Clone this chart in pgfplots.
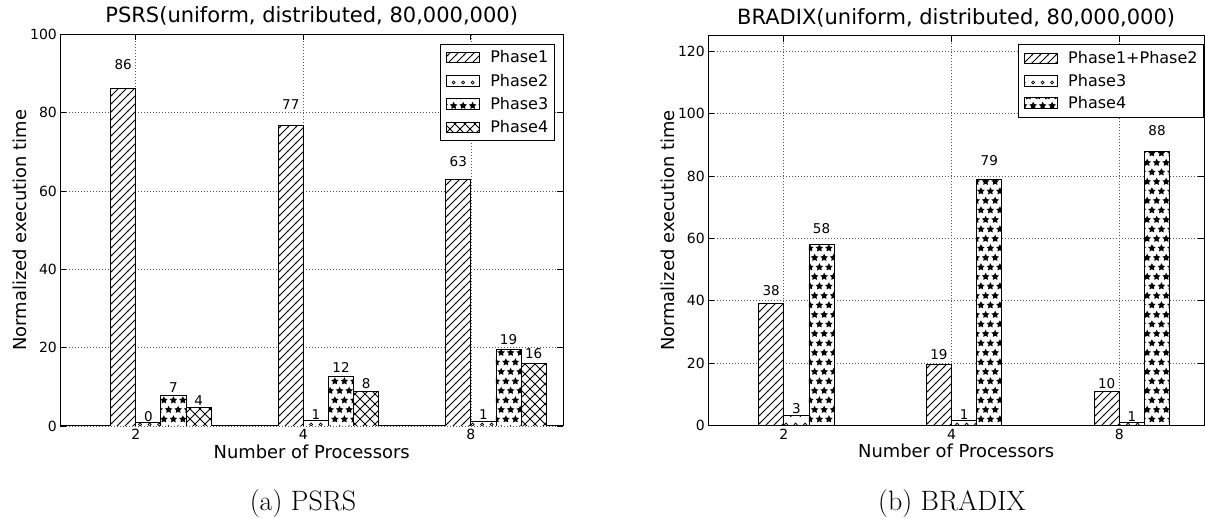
\documentclass[border=0pt]{standalone}
\usepackage{fontspec}
\usepackage{pgfplots}
\pgfplotsset{compat=1.18}
\usetikzlibrary{patterns}
\newfontfamily\dejavu{DejaVu Sans}
\newcommand{\fs}[1]{\dejavu\fontsize{#1}{#1}\selectfont}

% matplotlib-like hatches
\pgfdeclarepatternformonly{mpllines}{\pgfqpoint{-1pt}{-1pt}}{\pgfqpoint{9pt}{9pt}}{\pgfqpoint{8pt}{8pt}}{%
  \pgfsetlinewidth{0.8pt}%
  \pgfpathmoveto{\pgfqpoint{-0.5pt}{-0.5pt}}%
  \pgfpathlineto{\pgfqpoint{8.5pt}{8.5pt}}%
  \pgfusepath{stroke}}
\pgfdeclarepatternformonly{mplcross}{\pgfqpoint{-1pt}{-1pt}}{\pgfqpoint{11pt}{11pt}}{\pgfqpoint{10pt}{10pt}}{%
  \pgfsetlinewidth{0.8pt}%
  \pgfpathmoveto{\pgfqpoint{-0.5pt}{-0.5pt}}%
  \pgfpathlineto{\pgfqpoint{10.5pt}{10.5pt}}%
  \pgfpathmoveto{\pgfqpoint{-0.5pt}{10.5pt}}%
  \pgfpathlineto{\pgfqpoint{10.5pt}{-0.5pt}}%
  \pgfusepath{stroke}}
\newcommand\starat[2]{%
  \pgfpathmoveto{\pgfpoint{#1+0pt}{#2+4pt}}%
  \pgfpathlineto{\pgfpoint{#1+1.176pt}{#2+1.618pt}}%
  \pgfpathlineto{\pgfpoint{#1+3.804pt}{#2+1.236pt}}%
  \pgfpathlineto{\pgfpoint{#1+1.902pt}{#2-0.618pt}}%
  \pgfpathlineto{\pgfpoint{#1+2.351pt}{#2-3.236pt}}%
  \pgfpathlineto{\pgfpoint{#1+0pt}{#2-2pt}}%
  \pgfpathlineto{\pgfpoint{#1-2.351pt}{#2-3.236pt}}%
  \pgfpathlineto{\pgfpoint{#1-1.902pt}{#2-0.618pt}}%
  \pgfpathlineto{\pgfpoint{#1-3.804pt}{#2+1.236pt}}%
  \pgfpathlineto{\pgfpoint{#1-1.176pt}{#2+1.618pt}}%
  \pgfpathclose}
\pgfdeclarepatternformonly{mplstars}{\pgfqpoint{-5pt}{-5pt}}{\pgfqpoint{14.5pt}{24pt}}{\pgfqpoint{9.5pt}{19pt}}{%
  \starat{2.375pt}{4.75pt}%
  \starat{7.125pt}{14.25pt}%
  \pgfusepath{fill}}
\pgfdeclarepatternformonly{mplcircles}{\pgfqpoint{-3pt}{-3pt}}{\pgfqpoint{12.5pt}{22pt}}{\pgfqpoint{9.5pt}{19pt}}{%
  \pgfsetlinewidth{0.7pt}%
  \pgfpathcircle{\pgfqpoint{2.375pt}{9pt}}{1.6pt}%
  \pgfpathcircle{\pgfqpoint{7.125pt}{18.5pt}}{1.6pt}%
  \pgfusepath{stroke}}

\pgfplotsset{
  mplaxis/.style={
    scale only axis,
    anchor=south west,
    axis line style={line width=1pt},
    tick align=inside,
    major tick length=6pt,
    tick pos=both,
    every tick/.style={black, line width=0.8pt},
    xtick={0,1,2}, xticklabels={2,4,8},
    ymin=0,
    xmin=-0.45,
    grid=major,
    major grid style={black!65, line width=0.6pt, dash pattern=on 1pt off 2pt},
    tick label style={font=\fs{14}},
    /pgf/number format/assume math mode=true,
    label style={font=\fs{17.9}},
    title style={font=\fs{21}, at={(0.5,1)}, anchor=base, yshift=5.5pt},
    xlabel style={at={(axis description cs:0.5,0)}, anchor=base, yshift=-32.5pt},
    ylabel style={anchor=base},
    xlabel={Number of Processors},
    ylabel={Normalized execution time},
    legend cell align=left,
    legend image code/.code={%
      \pgfpathrectangle{\pgfpoint{0pt}{-#1pt}}{\pgfpoint{43.4pt}{2*#1pt}}%
      \pgfusepath{use as bounding box}%
      \draw[##1] (0pt,-5.25pt) rectangle (32.7pt,5.25pt);},
    legend style={font=\fs{16}, draw=black, line width=0.9pt, at={(1,1)}, anchor=north east,
      inner xsep=6pt, row sep=0pt, nodes={inner sep=0pt}},
  },
  mybar/.style={ybar, bar width=0.15, bar shift=0pt, draw=black, line width=0.9pt, fill=white, postaction={pattern=#1}},
  mylabels/.style={only marks, mark=none, forget plot, nodes near coords, point meta=explicit symbolic,
    nodes near coords style={anchor=south, font=\fs{13.5}, inner sep=1pt}},
}

\begin{document}
\begin{tikzpicture}
\useasboundingbox (0,0) rectangle (1205pt,519pt);

\begin{axis}[mplaxis=11.65,
  at={(60.4pt,93pt)}, width=502.6pt, height=391.5pt,
  xmax=2.55, ymax=100, ytick={0,20,40,60,80,100},
  title={PSRS(uniform, distributed, 80,000,000)},
  ylabel style={at={(axis description cs:-0.068,0.5)}},
  legend style={xshift=-8.3pt, yshift=-9.5pt, inner ysep=1.4pt},
]
\addplot[mybar=mpllines] coordinates {(-0.075,86.3) (0.925,76.8) (1.925,62.9)};
\addplot[mybar=mplcircles] coordinates {(0.075,0.8) (1.075,1.4) (2.075,1.2)};
\addplot[mybar=mplstars] coordinates {(0.225,7.9) (1.225,12.7) (2.225,19.5)};
\addplot[mybar=mplcross] coordinates {(0.375,4.8) (1.375,8.9) (2.375,16.0)};
\legend{Phase1,Phase2,Phase3,Phase4}
\addplot[mylabels] table[meta=l] {
x y l
-0.075 90.6 86
0.925 80.6 77
1.925 66.0 63
0.075 0.84 0
1.075 1.47 1
2.075 1.26 1
0.225 8.3 7
1.225 13.3 12
2.225 20.5 19
0.375 5.0 4
1.375 9.3 8
2.375 16.8 16
};
\end{axis}

\begin{axis}[mplaxis=11.1,
  at={(708.3pt,93.5pt)}, width=495.7pt, height=389.8pt,
  xmax=2.505, ymax=125, ytick={0,20,40,60,80,100,120},
  title={BRADIX(uniform, distributed, 80,000,000)},
  ylabel style={at={(axis description cs:-0.068,0.5)}},
  legend style={xshift=0pt, yshift=-8.3pt, inner ysep=3pt},
]
\addplot[mybar=mpllines] coordinates {(-0.075,39.2) (0.925,19.7) (1.925,10.9)};
\addplot[mybar=mplcircles] coordinates {(0.075,3.3) (1.075,1.5) (2.075,1.0)};
\addplot[mybar=mplstars] coordinates {(0.225,58.2) (1.225,78.9) (2.225,88.0)};
\legend{Phase1+Phase2,Phase3,Phase4}
\addplot[mylabels] table[meta=l] {
x y l
-0.075 41.2 38
0.925 20.7 19
1.925 11.4 10
0.075 3.5 3
1.075 1.6 1
2.075 1.05 1
0.225 61.1 58
1.225 82.8 79
2.225 92.4 88
};
\end{axis}

\node[font=\fontsize{28}{33}\selectfont, anchor=base] at (303pt,8pt) {(a) PSRS};
\node[font=\fontsize{28}{33}\selectfont, anchor=base] at (952pt,8pt) {(b) BRADIX};
\end{tikzpicture}
\end{document}
